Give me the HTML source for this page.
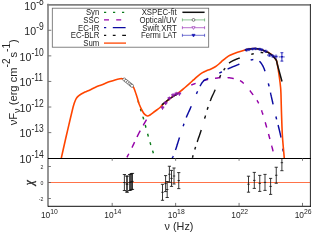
<!DOCTYPE html>
<html><head><meta charset="utf-8"><title>SED</title>
<style>html,body{margin:0;padding:0;background:#fff;}body{width:320px;height:240px;overflow:hidden;}svg{display:block;will-change:transform;}text{font-family:"Liberation Sans",sans-serif;fill:#262626;}</style>
</head><body>
<svg width="320" height="240" viewBox="0 0 320 240">
<rect x="0" y="0" width="320" height="240" fill="#ffffff"/>
<defs><clipPath id="cm"><rect x="48.30" y="4.70" width="262.00" height="153.50"/></clipPath></defs>
<g clip-path="url(#cm)" fill="none" stroke-linecap="butt" stroke-linejoin="round">
<path d="M138.05 100.46 L138.11 100.69 L138.18 100.91 L138.24 101.14 L138.30 101.37 L138.36 101.59 L138.43 101.82 L138.49 102.05 L138.55 102.28 L138.62 102.52 L138.69 102.76 L138.76 103.00 M140.45 108.82 L140.53 109.11 L140.62 109.40 L140.71 109.70 L140.80 110.00 L140.89 110.30 L140.99 110.61 L141.09 110.93 L141.18 111.24 M142.89 116.63 L142.99 116.98 L143.10 117.32 L143.20 117.66 L143.30 118.00 L143.40 118.34 L143.50 118.68 L143.60 119.01 L143.69 119.35 M145.21 124.81 L145.30 125.16 L145.40 125.52 L145.50 125.88 L145.60 126.25 L145.70 126.62 L145.80 127.00 L145.90 127.38 L146.01 127.76 M147.60 133.75 L147.70 134.13 L147.80 134.51 L147.90 134.88 L148.00 135.24 L148.10 135.60 L148.20 135.95 L148.29 136.29 L148.39 136.63 M150.00 142.20 L150.10 142.53 L150.20 142.86 L150.30 143.20 L150.40 143.55 L150.51 143.90 L150.62 144.26 L150.73 144.63 L150.85 145.00 M152.60 150.67 L152.70 151.02 L152.80 151.35 L152.90 151.68 L153.00 152.00 L153.09 152.31 L153.19 152.63 L153.28 152.94 L153.37 153.26" stroke="#0a7a1a" stroke-width="1.45"/>
<path d="M126.96 157.31 L127.15 156.95 L127.35 156.56 L127.57 156.14 L127.80 155.70 L128.04 155.23 L128.29 154.75 L128.55 154.25 L128.82 153.73 M131.96 147.58 L132.24 147.03 L132.50 146.50 L132.76 145.97 L133.02 145.44 L133.28 144.90 L133.55 144.35 L133.81 143.80 L134.07 143.24 L134.34 142.68 L134.60 142.11 M137.03 136.96 L137.31 136.38 L137.59 135.81 L137.86 135.24 L138.15 134.68 L138.43 134.11 L138.71 133.55 L139.00 133.00 L139.29 132.44 L139.59 131.87 L139.91 131.29 L140.22 130.70 M143.22 125.34 L143.54 124.77 L143.86 124.21 L144.18 123.66 L144.48 123.13 L144.78 122.62 L145.07 122.13 L145.34 121.65 L145.60 121.20 L145.85 120.77 L146.08 120.37 L146.30 120.00 L146.50 119.66 M191.25 85.04 L191.46 84.96 L191.67 84.87 L191.88 84.79 L192.08 84.71 L192.29 84.63 L192.50 84.55 L192.71 84.47 L192.92 84.39 L193.12 84.31 L193.33 84.24 L193.54 84.16 L193.75 84.08 L193.96 84.00 L194.17 83.92 L194.38 83.84 L194.58 83.76 L194.79 83.68 L195.00 83.60 L195.21 83.52 L195.42 83.43 L195.62 83.35 M203.12 80.68 L203.33 80.62 L203.54 80.57 L203.75 80.51 L203.96 80.46 L204.17 80.41 L204.38 80.36 L204.58 80.30 L204.79 80.25 L205.00 80.20 L205.21 80.15 L205.41 80.10 L205.62 80.05 L205.82 80.00 L206.02 79.95 L206.23 79.90 L206.43 79.85 L206.63 79.80 L206.83 79.76 L207.03 79.71 L207.23 79.66 L207.44 79.62 L207.64 79.57 L207.85 79.53 L208.05 79.48 M215.05 78.33 L215.29 78.30 L215.53 78.26 L215.77 78.23 L216.00 78.20 L216.23 78.17 L216.45 78.14 L216.66 78.11 L216.87 78.08 L217.08 78.05 L217.29 78.01 L217.49 77.98 L217.69 77.96 L217.88 77.93 L218.08 77.90 L218.27 77.87 L218.47 77.84 L218.66 77.82 L218.86 77.79 L219.06 77.77 L219.26 77.74 L219.46 77.72 L219.67 77.70 L219.88 77.68 L220.09 77.66 L220.31 77.64 L220.53 77.63 M227.50 77.60 L227.77 77.62 L228.03 77.65 L228.29 77.67 L228.56 77.70 L228.82 77.73 L229.08 77.76 L229.34 77.79 L229.60 77.82 L229.86 77.86 L230.12 77.90 L230.38 77.93 L230.64 77.97 L230.90 78.02 L231.16 78.06 L231.42 78.11 L231.68 78.16 L231.93 78.21 L232.19 78.26 L232.45 78.31 L232.71 78.36 L232.97 78.42 L233.23 78.48 L233.49 78.54 L233.75 78.60 M240.00 80.60 L240.20 80.70 L240.40 80.81 L240.59 80.91 L240.77 81.02 L240.94 81.13 L241.11 81.24 L241.28 81.35 L241.44 81.46 L241.59 81.57 L241.74 81.69 L241.89 81.81 L242.03 81.92 L242.17 82.05 L242.31 82.17 L242.45 82.29 L242.59 82.42 L242.73 82.55 L242.87 82.68 L243.01 82.81 L243.15 82.94 L243.30 83.08 L243.45 83.22 L243.60 83.36 L243.75 83.50 M249.86 90.50 L250.03 90.73 L250.19 90.95 L250.36 91.18 L250.53 91.40 L250.70 91.62 L250.86 91.84 L251.02 92.06 L251.18 92.28 L251.34 92.49 L251.50 92.70 L251.66 92.91 L251.81 93.11 L251.96 93.32 L252.12 93.53 L252.27 93.73 L252.42 93.94 L252.57 94.14 L252.72 94.34 L252.87 94.54 L253.02 94.74 L253.17 94.94 M256.93 100.25 L257.06 100.44 L257.18 100.62 L257.30 100.81 L257.42 101.00 L257.53 101.20 L257.65 101.39 L257.77 101.59 L257.88 101.79 L258.00 102.00 L258.11 102.21 L258.23 102.43 L258.34 102.64 L258.45 102.87 L258.57 103.09 L258.68 103.32 M261.53 110.27 L261.59 110.46 L261.66 110.66 L261.72 110.86 L261.79 111.05 L261.85 111.25 L261.92 111.46 L261.99 111.66 L262.06 111.87 L262.13 112.08 L262.20 112.30 L262.27 112.52 L262.35 112.74 L262.42 112.96 L262.49 113.18 L262.57 113.41 L262.64 113.63 L262.71 113.86 L262.79 114.09 L262.86 114.31 L262.93 114.55 L263.01 114.78 M265.24 122.29 L265.32 122.59 L265.41 122.90 L265.50 123.23 L265.59 123.56 L265.69 123.90 L265.79 124.25 L265.89 124.62 L266.00 125.00 L266.11 125.39 L266.22 125.80 L266.34 126.22 L266.46 126.65 L266.59 127.09 L266.72 127.55 M268.51 133.99 L268.65 134.50 L268.79 135.01 L268.93 135.51 L269.07 136.01 L269.20 136.50 L269.33 136.99 L269.47 137.49 L269.61 137.99 L269.74 138.50 L269.88 139.01 M271.67 145.65 L271.80 146.14 L271.92 146.63 L272.05 147.11 L272.17 147.58 L272.29 148.04 L272.40 148.50 L272.51 148.96 L272.63 149.42 L272.74 149.89 L272.85 150.36 L272.96 150.84 L273.07 151.31" stroke="#9400a8" stroke-width="1.45"/>
<path d="M172.30 158.20 L172.37 158.02 L172.45 157.82 L172.54 157.60 L172.64 157.36 L172.74 157.10 L172.86 156.83 L172.98 156.54 L173.10 156.23 L173.23 155.91 M175.50 150.00 L175.65 149.56 L175.80 149.11 L175.96 148.65 L176.12 148.17 L176.28 147.69 L176.44 147.19 L176.60 146.68 L176.76 146.17 L176.93 145.65 L177.10 145.12 L177.27 144.59 L177.43 144.05 L177.60 143.51 L177.78 142.96 L177.95 142.41 L178.12 141.86 L178.29 141.31 L178.46 140.76 L178.64 140.21 L178.81 139.66 L178.98 139.12 L179.16 138.57 L179.33 138.03 L179.50 137.50 M183.14 126.33 L183.30 125.84 L183.46 125.37 L183.61 124.93 L183.75 124.50 L183.89 124.10 L184.01 123.72 M186.25 117.50 L186.41 117.11 L186.58 116.72 L186.75 116.31 L186.93 115.90 L187.12 115.48 L187.31 115.04 L187.50 114.61 L187.70 114.16 L187.91 113.70 L188.12 113.24 L188.33 112.77 L188.55 112.30 L188.77 111.82 L188.99 111.33 L189.21 110.84 L189.44 110.34 L189.66 109.84 L189.89 109.34 L190.12 108.83 L190.34 108.32 L190.57 107.80 L190.80 107.29 L191.03 106.77 L191.25 106.25 M196.41 93.89 L196.61 93.40 L196.81 92.94 L197.00 92.50 L197.18 92.09 L197.34 91.70 L197.50 91.33 M199.86 86.24 L200.00 86.00 L200.14 85.76 L200.28 85.51 L200.43 85.27 L200.57 85.03 L200.72 84.79 L200.86 84.55 L201.01 84.31 L201.16 84.07 L201.31 83.84 L201.46 83.60 L201.61 83.38 L201.77 83.15 L201.92 82.93 L202.08 82.71 L202.24 82.50 L202.40 82.29 L202.56 82.08 L202.72 81.88 L202.89 81.68 L203.06 81.50 L203.23 81.31 L203.40 81.13 L203.57 80.96 L203.75 80.80 L203.93 80.64 L204.11 80.50 L204.29 80.36 L204.48 80.23 L204.66 80.11 L204.85 79.99 L205.04 79.88 L205.23 79.77 L205.43 79.67 L205.62 79.58 L205.82 79.48 L206.02 79.39 L206.22 79.31 L206.42 79.22 L206.62 79.13 L206.82 79.05 L207.03 78.96 L207.24 78.88 L207.44 78.79 L207.65 78.70 L207.86 78.60 L208.07 78.51 L208.29 78.41 M219.23 73.10 L219.54 72.96 L219.85 72.81 L220.17 72.66 L220.50 72.50 L220.84 72.34 L221.19 72.17 L221.55 72.00 L221.92 71.82 M227.61 69.09 L228.02 68.90 L228.43 68.71 L228.83 68.53 L229.23 68.35 L229.62 68.17 L230.00 68.00 L230.38 67.83 L230.76 67.67 L231.14 67.50 L231.52 67.34 L231.90 67.18 L232.28 67.02 L232.65 66.86 L233.03 66.70 L233.40 66.55 L233.77 66.40 L234.15 66.24 L234.52 66.09 L234.88 65.95 L235.25 65.80 L235.61 65.65 L235.97 65.51 L236.33 65.36 L236.69 65.22 L237.04 65.08 L237.39 64.94 L237.73 64.81 L238.08 64.67 L238.41 64.53 L238.75 64.40 L239.08 64.27 L239.41 64.14 M250.67 60.07 L250.90 60.01 L251.13 59.95 L251.35 59.89 L251.57 59.84 L251.79 59.79 L252.00 59.75 L252.21 59.71 L252.41 59.67 L252.60 59.64 L252.79 59.61 L252.97 59.58 L253.15 59.55 L253.33 59.53 M259.40 61.25 L259.53 61.36 L259.66 61.48 L259.79 61.60 L259.91 61.72 L260.04 61.85 L260.16 61.98 L260.29 62.11 L260.41 62.25 L260.53 62.39 L260.65 62.54 L260.77 62.69 L260.89 62.84 L261.01 62.99 L261.13 63.15 L261.25 63.32 L261.37 63.49 L261.48 63.66 L261.60 63.84 L261.72 64.02 L261.83 64.21 L261.95 64.40 L262.07 64.59 L262.18 64.79 L262.30 65.00 L262.42 65.21 L262.53 65.41 L262.64 65.61 L262.75 65.81 L262.86 66.01 L262.96 66.21 L263.07 66.41 L263.18 66.62 L263.28 66.83 L263.39 67.05 L263.49 67.27 L263.60 67.50 L263.70 67.74 L263.81 67.99 L263.92 68.25 L264.03 68.52 L264.14 68.80 L264.26 69.10 L264.37 69.42 L264.49 69.75 L264.61 70.09 L264.74 70.46 L264.87 70.84 L265.00 71.25 M268.35 83.41 L268.49 83.96 L268.62 84.49 L268.75 85.00 L268.87 85.49 L268.99 85.97 L269.10 86.43 M270.48 92.63 L270.57 93.02 L270.65 93.41 L270.74 93.80 L270.82 94.20 L270.91 94.60 L271.00 95.00 L271.09 95.40 L271.18 95.79 L271.26 96.18 L271.35 96.55 L271.43 96.93 L271.51 97.30 L271.59 97.66 L271.67 98.03 L271.75 98.39 L271.83 98.75 L271.91 99.12 L271.99 99.48 L272.08 99.85 L272.16 100.22 L272.24 100.60 L272.33 100.99 L272.42 101.38 L272.50 101.78 L272.60 102.18 L272.69 102.60 L272.79 103.03 L272.89 103.48 L272.99 103.93 L273.10 104.40 M275.91 116.49 L276.03 116.99 L276.14 117.46 L276.25 117.90 L276.35 118.31 L276.45 118.70 L276.54 119.06 L276.62 119.39 M278.10 125.00 L278.20 125.42 L278.31 125.85 L278.42 126.30 L278.53 126.77 L278.65 127.25 L278.77 127.75 L278.90 128.25 L279.02 128.77 L279.15 129.29 L279.28 129.83 L279.41 130.37 L279.54 130.91 L279.67 131.46 L279.80 132.02 L279.93 132.58 L280.06 133.13 L280.19 133.69 L280.31 134.25 L280.44 134.80 L280.56 135.35 L280.67 135.90 L280.79 136.44 L280.90 136.97 L281.00 137.50 M282.80 148.64 L282.87 149.11 L282.94 149.56 L283.00 150.00 L283.06 150.43 L283.12 150.86 L283.18 151.29" stroke="#0a0aa0" stroke-width="1.45"/>
<path d="M192.43 157.73 L192.51 157.45 L192.60 157.13 L192.70 156.79 L192.80 156.43 L192.91 156.04 L193.03 155.63 L193.15 155.21 M194.79 149.46 L194.90 149.09 L195.00 148.75 L195.09 148.43 L195.18 148.14 L195.27 147.86 L195.35 147.60 L195.42 147.35 L195.50 147.11 L195.57 146.88 M197.13 142.10 L197.28 141.68 L197.42 141.25 L197.58 140.80 L197.74 140.34 L197.90 139.86 L198.07 139.37 L198.25 138.87 L198.43 138.36 L198.61 137.84 L198.80 137.30 L198.98 136.77 L199.17 136.22 L199.37 135.67 L199.56 135.11 L199.75 134.55 L199.94 133.98 L200.13 133.41 L200.33 132.84 L200.52 132.27 L200.70 131.70 L200.89 131.13 L201.07 130.56 L201.25 130.00 M204.60 118.63 L204.76 118.05 L204.92 117.49 L205.08 116.96 L205.22 116.44 L205.37 115.96 L205.50 115.50 M207.19 109.68 L207.29 109.39 L207.39 109.08 L207.50 108.75 L207.62 108.40 L207.74 108.04 L207.86 107.67 L207.99 107.29 L208.12 106.90 M210.21 101.03 L210.37 100.62 L210.53 100.20 L210.69 99.80 L210.84 99.39 L211.00 99.00 L211.16 98.61 L211.32 98.22 L211.48 97.84 L211.65 97.45 L211.82 97.07 L211.99 96.69 L212.16 96.31 L212.33 95.93 L212.51 95.55 L212.68 95.17 L212.86 94.80 L213.03 94.42 L213.21 94.05 L213.38 93.68 L213.55 93.31 L213.72 92.94 L213.89 92.57 L214.06 92.20 L214.22 91.83 L214.39 91.46 L214.54 91.10 L214.70 90.73 L214.85 90.36 L215.00 90.00 L215.14 89.63 M219.58 77.51 L219.69 77.28 L219.79 77.05 L219.89 76.82 L219.99 76.59 L220.09 76.37 L220.19 76.15 L220.29 75.93 L220.40 75.71 L220.50 75.50 L220.60 75.29 L220.71 75.08 M223.62 70.27 L223.73 70.12 L223.83 69.96 L223.94 69.80 L224.04 69.64 L224.15 69.49 L224.25 69.33 L224.35 69.18 L224.46 69.03 L224.56 68.87 L224.67 68.72 L224.77 68.57 L224.88 68.42 L224.98 68.26 L225.08 68.11 M229.03 63.06 L229.22 62.93 L229.42 62.79 L229.61 62.65 L229.82 62.52 L230.02 62.38 L230.23 62.25 L230.45 62.12 L230.67 61.98 L230.89 61.85 L231.11 61.72 L231.34 61.59 L231.57 61.46 L231.80 61.33 L232.04 61.21 L232.27 61.08 L232.51 60.95 L232.76 60.83 L233.00 60.70 L233.25 60.58 L233.50 60.45 L233.76 60.33 L234.03 60.20 L234.30 60.08 L234.58 59.96 L234.86 59.84 L235.14 59.72 L235.43 59.60 L235.71 59.48 L236.00 59.36 L236.30 59.24 L236.59 59.13 L236.88 59.01 L237.18 58.90 L237.47 58.78 L237.77 58.67 L238.06 58.56 L238.35 58.44 L238.63 58.33 L238.92 58.22 L239.20 58.11 L239.48 58.01 L239.75 57.90 M251.27 54.30 L251.53 54.24 L251.78 54.18 L252.03 54.12 L252.27 54.06 L252.50 54.00 L252.73 53.94 L252.94 53.88 L253.15 53.82 L253.36 53.77 L253.56 53.71 L253.75 53.65 M260.60 52.55 L260.81 52.55 L261.02 52.55 L261.22 52.56 L261.42 52.57 L261.62 52.57 L261.81 52.59 L262.00 52.60 L262.19 52.62 L262.37 52.63 L262.55 52.65 L262.72 52.67 L262.90 52.69 L263.07 52.71 L263.24 52.74" stroke="#111" stroke-width="1.45"/>
<path d="M61.30 158.20 C61.60 156.83 62.23 153.87 63.10 150.00 C63.97 146.13 65.35 140.00 66.50 135.00 C67.65 130.00 69.00 124.25 70.00 120.00 C71.00 115.75 71.88 112.00 72.50 109.50 C73.12 107.00 73.28 106.37 73.70 105.00 C74.12 103.63 74.58 102.35 75.00 101.30 C75.42 100.25 75.78 99.43 76.20 98.70 C76.62 97.97 77.00 97.47 77.50 96.90 C78.00 96.33 78.58 95.78 79.20 95.30 C79.83 94.82 80.28 94.53 81.25 94.00 C82.22 93.47 83.54 92.78 85.00 92.10 C86.46 91.42 88.33 90.67 90.00 89.90 C91.67 89.13 93.33 88.25 95.00 87.50 C96.67 86.75 98.33 86.08 100.00 85.40 C101.67 84.72 103.33 84.05 105.00 83.40 C106.67 82.75 108.33 82.08 110.00 81.50 C111.67 80.92 113.33 80.35 115.00 79.90 C116.67 79.45 118.79 79.00 120.00 78.80 C121.21 78.60 121.50 78.60 122.25 78.70 C123.00 78.80 123.54 78.80 124.50 79.40 C125.46 80.00 126.60 81.10 128.00 82.30 C129.40 83.50 131.78 85.27 132.90 86.60 C134.03 87.92 134.03 88.39 134.75 90.25 C135.47 92.11 136.53 95.46 137.25 97.75 C137.97 100.04 138.22 101.75 139.10 104.00 C139.97 106.25 141.52 109.47 142.50 111.25 C143.48 113.03 144.17 113.91 145.00 114.70 C145.83 115.49 146.67 115.95 147.50 116.00 C148.33 116.05 148.75 115.79 150.00 115.00 C151.25 114.21 153.33 112.50 155.00 111.25 C156.67 110.00 158.75 108.58 160.00 107.50 C161.25 106.42 160.83 106.30 162.50 104.80 C164.17 103.30 167.08 100.68 170.00 98.50 C172.92 96.32 177.50 93.53 180.00 91.70 C182.50 89.87 183.33 88.93 185.00 87.50 C186.67 86.07 188.58 84.37 190.00 83.10 C191.42 81.83 192.25 81.03 193.50 79.90 C194.75 78.77 196.00 77.52 197.50 76.30 C199.00 75.08 201.08 73.50 202.50 72.60 C203.92 71.70 204.75 71.43 206.00 70.90 C207.25 70.37 208.83 69.88 210.00 69.40 C211.17 68.92 211.96 68.55 213.00 68.00 C214.04 67.45 215.17 66.85 216.25 66.10 C217.33 65.35 218.46 64.40 219.50 63.50 C220.54 62.60 221.42 61.65 222.50 60.70 C223.58 59.75 224.75 58.72 226.00 57.80 C227.25 56.88 228.08 56.12 230.00 55.20 C231.92 54.28 235.00 53.17 237.50 52.30 C240.00 51.43 242.92 50.57 245.00 50.00 C247.08 49.43 248.33 49.15 250.00 48.90 C251.67 48.65 253.33 48.43 255.00 48.50 C256.67 48.57 258.75 49.07 260.00 49.30 C261.25 49.53 261.46 49.50 262.50 49.90 C263.54 50.30 265.21 51.22 266.25 51.70 C267.29 52.18 267.71 52.15 268.75 52.80 C269.79 53.45 271.25 54.37 272.50 55.60 C273.75 56.83 275.42 58.63 276.25 60.20 C277.08 61.77 276.98 62.12 277.50 65.00 C278.02 67.88 278.88 73.75 279.40 77.50 C279.92 81.25 280.33 84.58 280.60 87.50 C280.87 90.42 280.87 91.25 281.00 95.00 C281.13 98.75 281.25 105.00 281.40 110.00 C281.55 115.00 281.72 120.42 281.90 125.00 C282.08 129.58 282.15 132.50 282.50 137.50 C282.85 142.50 283.70 151.55 284.00 155.00 C284.30 158.45 284.25 157.67 284.30 158.20" stroke="#ff4500" stroke-width="1.6"/>
<path d="M161.90 104.90 C163.25 103.83 167.30 100.43 170.00 98.50 C172.70 96.57 176.75 94.17 178.10 93.30" stroke="#111" stroke-width="1.5"/>
<path d="M245.00 50.00 C245.83 49.82 248.33 49.15 250.00 48.90 C251.67 48.65 253.33 48.43 255.00 48.50 C256.67 48.57 258.75 49.07 260.00 49.30 C261.25 49.53 261.46 49.50 262.50 49.90 C263.54 50.30 265.21 51.22 266.25 51.70 C267.29 52.18 267.71 52.15 268.75 52.80 C269.79 53.45 271.25 54.37 272.50 55.60 C273.75 56.83 275.42 58.63 276.25 60.20 C277.08 61.77 276.54 61.45 277.50 65.00 C278.46 68.55 281.25 78.75 282.00 81.50" stroke="#111" stroke-width="1.5"/>
</g>
<g fill="#fff" stroke="#444" stroke-width="0.6">
<circle cx="124.30" cy="79.50" r="1.55"/>
<circle cx="126.00" cy="80.90" r="1.55"/>
<circle cx="127.80" cy="82.30" r="1.55"/>
<circle cx="129.50" cy="83.70" r="1.55"/>
<circle cx="130.90" cy="84.90" r="1.55"/>
<circle cx="132.00" cy="85.80" r="1.55"/>
</g>
<g fill="#a040c0" fill-opacity="0.45" stroke="#8c14ac" stroke-width="0.7">
<path d="M161.00 106.80 h3.0 l-1.5 2.6 z M162.50 105.70 v4.0 M160.70 107.70 h3.6"/>
<path d="M164.20 102.20 h3.0 l-1.5 2.6 z M165.70 101.10 v4.0 M163.90 103.10 h3.6"/>
<path d="M167.90 97.50 h3.0 l-1.5 2.6 z M169.40 96.40 v4.0 M167.60 98.40 h3.6"/>
<path d="M171.60 94.30 h3.0 l-1.5 2.6 z M173.10 93.20 v4.0 M171.30 95.20 h3.6"/>
<path d="M174.80 92.90 h3.0 l-1.5 2.6 z M176.30 91.80 v4.0 M174.50 93.80 h3.6"/>
<path d="M177.90 92.80 h3.0 l-1.5 2.6 z M179.40 91.70 v4.0 M177.60 93.70 h3.6"/>
</g>
<g fill="#1414b4" stroke="#1414b4" stroke-width="0.45">
<path fill="none" stroke-width="0.6" d="M280.3 52.7 h3.2 M280.3 61.1 h3.2 M281.9 52.7 v8.4"/>
<path stroke="none" d="M245.30 49.10 h2.6 l-1.3 2.3 z"/>
<path fill="none" d="M246.60 48.60 v2.60 M245.00 49.90 h3.20 M245.00 49.00 v1.8 M248.20 49.00 v1.8 M245.50 48.60 h2.2 M245.50 51.20 h2.2"/>
<path stroke="none" d="M247.70 48.70 h2.6 l-1.3 2.3 z"/>
<path fill="none" d="M249.00 48.40 v2.20 M247.80 49.50 h2.40 M247.80 48.60 v1.8 M250.20 48.60 v1.8 M247.90 48.40 h2.2 M247.90 50.60 h2.2"/>
<path stroke="none" d="M251.30 48.10 h2.6 l-1.3 2.3 z"/>
<path fill="none" d="M252.60 47.90 v2.00 M251.00 48.90 h3.20 M251.00 48.00 v1.8 M254.20 48.00 v1.8 M251.50 47.90 h2.2 M251.50 49.90 h2.2"/>
<path stroke="none" d="M254.30 47.90 h2.6 l-1.3 2.3 z"/>
<path fill="none" d="M255.60 47.70 v2.00 M254.20 48.70 h2.80 M254.20 47.80 v1.8 M257.00 47.80 v1.8 M254.50 47.70 h2.2 M254.50 49.70 h2.2"/>
<path stroke="none" d="M258.30 48.40 h2.6 l-1.3 2.3 z"/>
<path fill="none" d="M259.60 48.20 v2.00 M258.00 49.20 h3.20 M258.00 48.30 v1.8 M261.20 48.30 v1.8 M258.50 48.20 h2.2 M258.50 50.20 h2.2"/>
<path stroke="none" d="M260.50 48.90 h2.6 l-1.3 2.3 z"/>
<path fill="none" d="M261.80 48.70 v2.00 M260.60 49.70 h2.40 M260.60 48.80 v1.8 M263.00 48.80 v1.8 M260.70 48.70 h2.2 M260.70 50.70 h2.2"/>
<path stroke="none" d="M264.30 50.40 h2.6 l-1.3 2.3 z"/>
<path fill="none" d="M265.60 50.00 v2.40 M263.80 51.20 h3.60 M263.80 50.30 v1.8 M267.40 50.30 v1.8 M264.50 50.00 h2.2 M264.50 52.40 h2.2"/>
<path stroke="none" d="M268.00 54.40 h2.6 l-1.3 2.3 z"/>
<path fill="none" d="M269.30 53.90 v2.60 M267.50 55.20 h3.60 M267.50 54.30 v1.8 M271.10 54.30 v1.8 M268.20 53.90 h2.2 M268.20 56.50 h2.2"/>
<path stroke="none" d="M271.30 55.20 h2.6 l-1.3 2.3 z"/>
<path fill="none" d="M272.60 54.60 v2.80 M270.80 56.00 h3.60 M270.80 55.10 v1.8 M274.40 55.10 v1.8 M271.50 54.60 h2.2 M271.50 57.40 h2.2"/>
<path stroke="none" d="M274.70 55.80 h2.6 l-1.3 2.3 z"/>
<path fill="none" d="M276.00 55.00 v3.20 M274.20 56.60 h3.60 M274.20 55.70 v1.8 M277.80 55.70 v1.8 M274.90 55.00 h2.2 M274.90 58.20 h2.2"/>
<path stroke="none" d="M280.60 56.10 h2.6 l-1.3 2.3 z"/>
<path fill="none" d="M281.90 52.70 v8.40 M279.70 56.90 h4.40 M279.70 56.00 v1.8 M284.10 56.00 v1.8 M280.80 52.70 h2.2 M280.80 61.10 h2.2"/>
</g>
<line x1="48.30" y1="182.50" x2="310.30" y2="182.50" stroke="#ff5a28" stroke-width="0.85"/>
<g fill="none" stroke="#151515" stroke-width="0.85">
<path d="M124.40 174.50 V190.50 M122.80 190.50 h3.2 M122.80 174.50 h3.2 M123.20 182.50 h2.4"/>
<path d="M126.70 176.00 V192.00 M125.10 192.00 h3.2 M125.10 176.00 h3.2 M125.50 184.00 h2.4"/>
<path d="M127.30 176.20 V192.20 M125.70 192.20 h3.2 M125.70 176.20 h3.2 M126.10 184.20 h2.4"/>
<path d="M129.60 174.50 V190.50 M128.00 190.50 h3.2 M128.00 174.50 h3.2 M128.40 182.50 h2.4"/>
<path d="M130.60 174.20 V190.20 M129.00 190.20 h3.2 M129.00 174.20 h3.2 M129.40 182.20 h2.4"/>
<path d="M131.60 173.50 V189.50 M130.00 189.50 h3.2 M130.00 173.50 h3.2 M130.40 181.50 h2.4"/>
<path d="M132.50 173.40 V189.40 M130.90 189.40 h3.2 M130.90 173.40 h3.2 M131.30 181.40 h2.4"/>
<path d="M162.50 184.30 V200.30 M160.90 200.30 h3.2 M160.90 184.30 h3.2 M161.30 192.30 h2.4"/>
<path d="M165.60 175.60 V191.60 M164.00 191.60 h3.2 M164.00 175.60 h3.2 M164.40 183.60 h2.4"/>
<path d="M167.20 181.50 V197.50 M165.60 197.50 h3.2 M165.60 181.50 h3.2 M166.00 189.50 h2.4"/>
<path d="M169.40 166.25 V182.25 M167.80 182.25 h3.2 M167.80 166.25 h3.2 M168.20 174.25 h2.4"/>
<path d="M171.50 170.40 V186.40 M169.90 186.40 h3.2 M169.90 170.40 h3.2 M170.30 178.40 h2.4"/>
<path d="M174.00 168.00 V184.00 M172.40 184.00 h3.2 M172.40 168.00 h3.2 M172.80 176.00 h2.4"/>
<path d="M178.75 172.60 V188.60 M177.15 188.60 h3.2 M177.15 172.60 h3.2 M177.55 180.60 h2.4"/>
<path d="M248.50 176.20 V192.20 M246.90 192.20 h3.2 M246.90 176.20 h3.2 M247.30 184.20 h2.4"/>
<path d="M254.30 172.40 V188.40 M252.70 188.40 h3.2 M252.70 172.40 h3.2 M253.10 180.40 h2.4"/>
<path d="M259.75 175.40 V191.40 M258.15 191.40 h3.2 M258.15 175.40 h3.2 M258.55 183.40 h2.4"/>
<path d="M265.00 174.40 V190.40 M263.40 190.40 h3.2 M263.40 174.40 h3.2 M263.80 182.40 h2.4"/>
<path d="M270.60 178.40 V194.40 M269.00 194.40 h3.2 M269.00 178.40 h3.2 M269.40 186.40 h2.4"/>
<path d="M276.25 167.25 V183.25 M274.65 183.25 h3.2 M274.65 167.25 h3.2 M275.05 175.25 h2.4"/>
<path d="M281.90 158.20 V170.70 M280.30 170.70 h3.2 M280.70 162.70 h2.4"/>
</g>
<g fill="none">
<line x1="48.0" y1="3.80" x2="48.0" y2="206.70" stroke="#7c7c7c" stroke-width="1.6"/>
<line x1="47.2" y1="4.9" x2="311.00" y2="4.9" stroke="#808080" stroke-width="1.8"/>
<line x1="310.45" y1="4.10" x2="310.45" y2="206.70" stroke="#3c3c3c" stroke-width="1.15"/>
<line x1="48.00" y1="158.4" x2="311.00" y2="158.4" stroke="#000" stroke-width="1.05"/>
<line x1="48.00" y1="206.30" x2="311.00" y2="206.30" stroke="#000" stroke-width="0.95"/>
</g>
<g stroke="#555" stroke-width="0.8">
<line x1="48.30" y1="132.62" x2="51.30" y2="132.62"/>
<line x1="48.30" y1="107.03" x2="51.30" y2="107.03"/>
<line x1="48.30" y1="81.45" x2="51.30" y2="81.45"/>
<line x1="48.30" y1="55.87" x2="51.30" y2="55.87"/>
<line x1="48.30" y1="30.28" x2="51.30" y2="30.28"/>
<line x1="112.19" y1="206.30" x2="112.19" y2="202.90"/>
<line x1="112.19" y1="158.20" x2="112.19" y2="160.80"/>
<line x1="175.63" y1="206.30" x2="175.63" y2="202.90"/>
<line x1="175.63" y1="158.20" x2="175.63" y2="160.80"/>
<line x1="239.07" y1="206.30" x2="239.07" y2="202.90"/>
<line x1="239.07" y1="158.20" x2="239.07" y2="160.80"/>
<line x1="302.51" y1="206.30" x2="302.51" y2="202.90"/>
<line x1="302.51" y1="158.20" x2="302.51" y2="160.80"/>
<line x1="48.30" y1="198.50" x2="50.90" y2="198.50"/>
<line x1="48.30" y1="182.50" x2="50.90" y2="182.50"/>
<line x1="48.30" y1="166.50" x2="50.90" y2="166.50"/>
</g>
<text x="31.42" y="163.00" text-anchor="end" font-size="10.6">10</text>
<text transform="translate(31.42 158.00) scale(1 1.2)" font-size="8.5">-14</text>
<text x="31.42" y="137.42" text-anchor="end" font-size="10.6">10</text>
<text transform="translate(31.42 132.42) scale(1 1.2)" font-size="8.5">-13</text>
<text x="31.42" y="111.83" text-anchor="end" font-size="10.6">10</text>
<text transform="translate(31.42 106.83) scale(1 1.2)" font-size="8.5">-12</text>
<text x="31.42" y="86.25" text-anchor="end" font-size="10.6">10</text>
<text transform="translate(31.42 81.25) scale(1 1.2)" font-size="8.5">-11</text>
<text x="31.42" y="60.67" text-anchor="end" font-size="10.6">10</text>
<text transform="translate(31.42 55.67) scale(1 1.2)" font-size="8.5">-10</text>
<text x="36.14" y="35.08" text-anchor="end" font-size="10.6">10</text>
<text transform="translate(36.14 30.08) scale(1 1.2)" font-size="8.5">-9</text>
<text x="36.14" y="9.50" text-anchor="end" font-size="10.6">10</text>
<text transform="translate(36.14 4.50) scale(1 1.2)" font-size="8.5">-8</text>
<text x="49.35" y="218.3" text-anchor="middle" font-size="8.4">10<tspan dy="-3.9" font-size="6.8">10</tspan></text>
<text x="112.79" y="218.3" text-anchor="middle" font-size="8.4">10<tspan dy="-3.9" font-size="6.8">14</tspan></text>
<text x="176.23" y="218.3" text-anchor="middle" font-size="8.4">10<tspan dy="-3.9" font-size="6.8">18</tspan></text>
<text x="239.67" y="218.3" text-anchor="middle" font-size="8.4">10<tspan dy="-3.9" font-size="6.8">22</tspan></text>
<text x="303.11" y="218.3" text-anchor="middle" font-size="8.4">10<tspan dy="-3.9" font-size="6.8">26</tspan></text>
<text x="43.3" y="200.80" text-anchor="end" font-size="5.2">-2</text>
<text x="43.3" y="184.80" text-anchor="end" font-size="5.2">0</text>
<text x="43.3" y="168.80" text-anchor="end" font-size="5.2">2</text>
<text transform="translate(16.6 82.3) rotate(-90)" text-anchor="middle" font-size="11.2">νF<tspan dy="3.8" font-size="9">ν</tspan><tspan dy="-3.8"> (erg cm</tspan><tspan dy="-6.3" font-size="10">-2</tspan><tspan dy="6.3" dx="1">s</tspan><tspan dy="-6.3" font-size="10">-1</tspan><tspan dy="6.3">)</tspan></text>
<text transform="translate(32.6 182.6) rotate(-90)" text-anchor="middle" font-size="11.6" stroke="#262626" stroke-width="0.35" font-style="italic" style="font-family:'Liberation Serif',serif">χ</text>
<text x="179" y="230.2" text-anchor="middle" font-size="10.8">ν (Hz)</text>
<rect x="52.3" y="8.2" width="156.4" height="39" fill="#fff" stroke="#666" stroke-width="0.8"/>
<text transform="translate(99.3 15.10) scale(1 1.25)" text-anchor="end" font-size="7.8">Syn</text>
<text transform="translate(99.3 22.70) scale(1 1.25)" text-anchor="end" font-size="7.8">SSC</text>
<text transform="translate(99.3 30.50) scale(1 1.25)" text-anchor="end" font-size="7.8">EC-IR</text>
<text transform="translate(99.3 38.10) scale(1 1.25)" text-anchor="end" font-size="7.8">EC-BLR</text>
<text transform="translate(99.3 45.90) scale(1 1.25)" text-anchor="end" font-size="7.8">Sum</text>
<text transform="translate(176.7 15.10) scale(1 1.25)" text-anchor="end" font-size="7.8">XSPEC-fit</text>
<text transform="translate(176.7 22.70) scale(1 1.25)" text-anchor="end" font-size="7.8">Optical/UV</text>
<text transform="translate(176.7 30.50) scale(1 1.25)" text-anchor="end" font-size="7.8">Swift XRT</text>
<text transform="translate(176.7 38.10) scale(1 1.25)" text-anchor="end" font-size="7.8">Fermi LAT</text>
<g fill="none" stroke-width="1.2">
<path d="M104 12.30 H126" stroke="#0a7a1a" stroke-dasharray="2.2 6.8"/>
<path d="M104 19.90 H126" stroke="#9400a8" stroke-dasharray="5 7.2"/>
<path d="M104 27.70 h2.2 M112.8 27.70 H125.6" stroke="#0a0aa0"/>
<path d="M104 35.30 h2.2 M112.8 35.30 h2.8 M122.2 35.30 H126" stroke="#111"/>
<path d="M104 43.10 H126" stroke="#ff4500" stroke-width="1.3"/>
<path d="M182.4 12.30 H204.6" stroke="#111" stroke-width="1.5"/>
</g>
<g stroke="#3c9a4a" stroke-width="0.6" fill="none"><path d="M182.4 19.90 H204.6 M182.4 18.40 v3 M204.6 18.40 v3"/>
<circle cx="193.50" cy="19.90" r="1.4" fill="#fff" stroke="#333"/>
</g>
<g stroke="#8c14ac" stroke-width="0.6" fill="none"><path d="M182.4 27.70 H204.6 M182.4 26.20 v3 M204.6 26.20 v3"/>
<path d="M191.90 26.70 h3.2 l-1.6 2.7 z" fill="#fff"/>
</g>
<g stroke="#1414b4" stroke-width="0.6" fill="none"><path d="M182.4 35.30 H204.6 M182.4 33.80 v3 M204.6 33.80 v3"/>
<path d="M191.90 34.30 h3.2 l-1.6 2.7 z" fill="#1414b4"/>
</g>
</svg>
</body></html>
